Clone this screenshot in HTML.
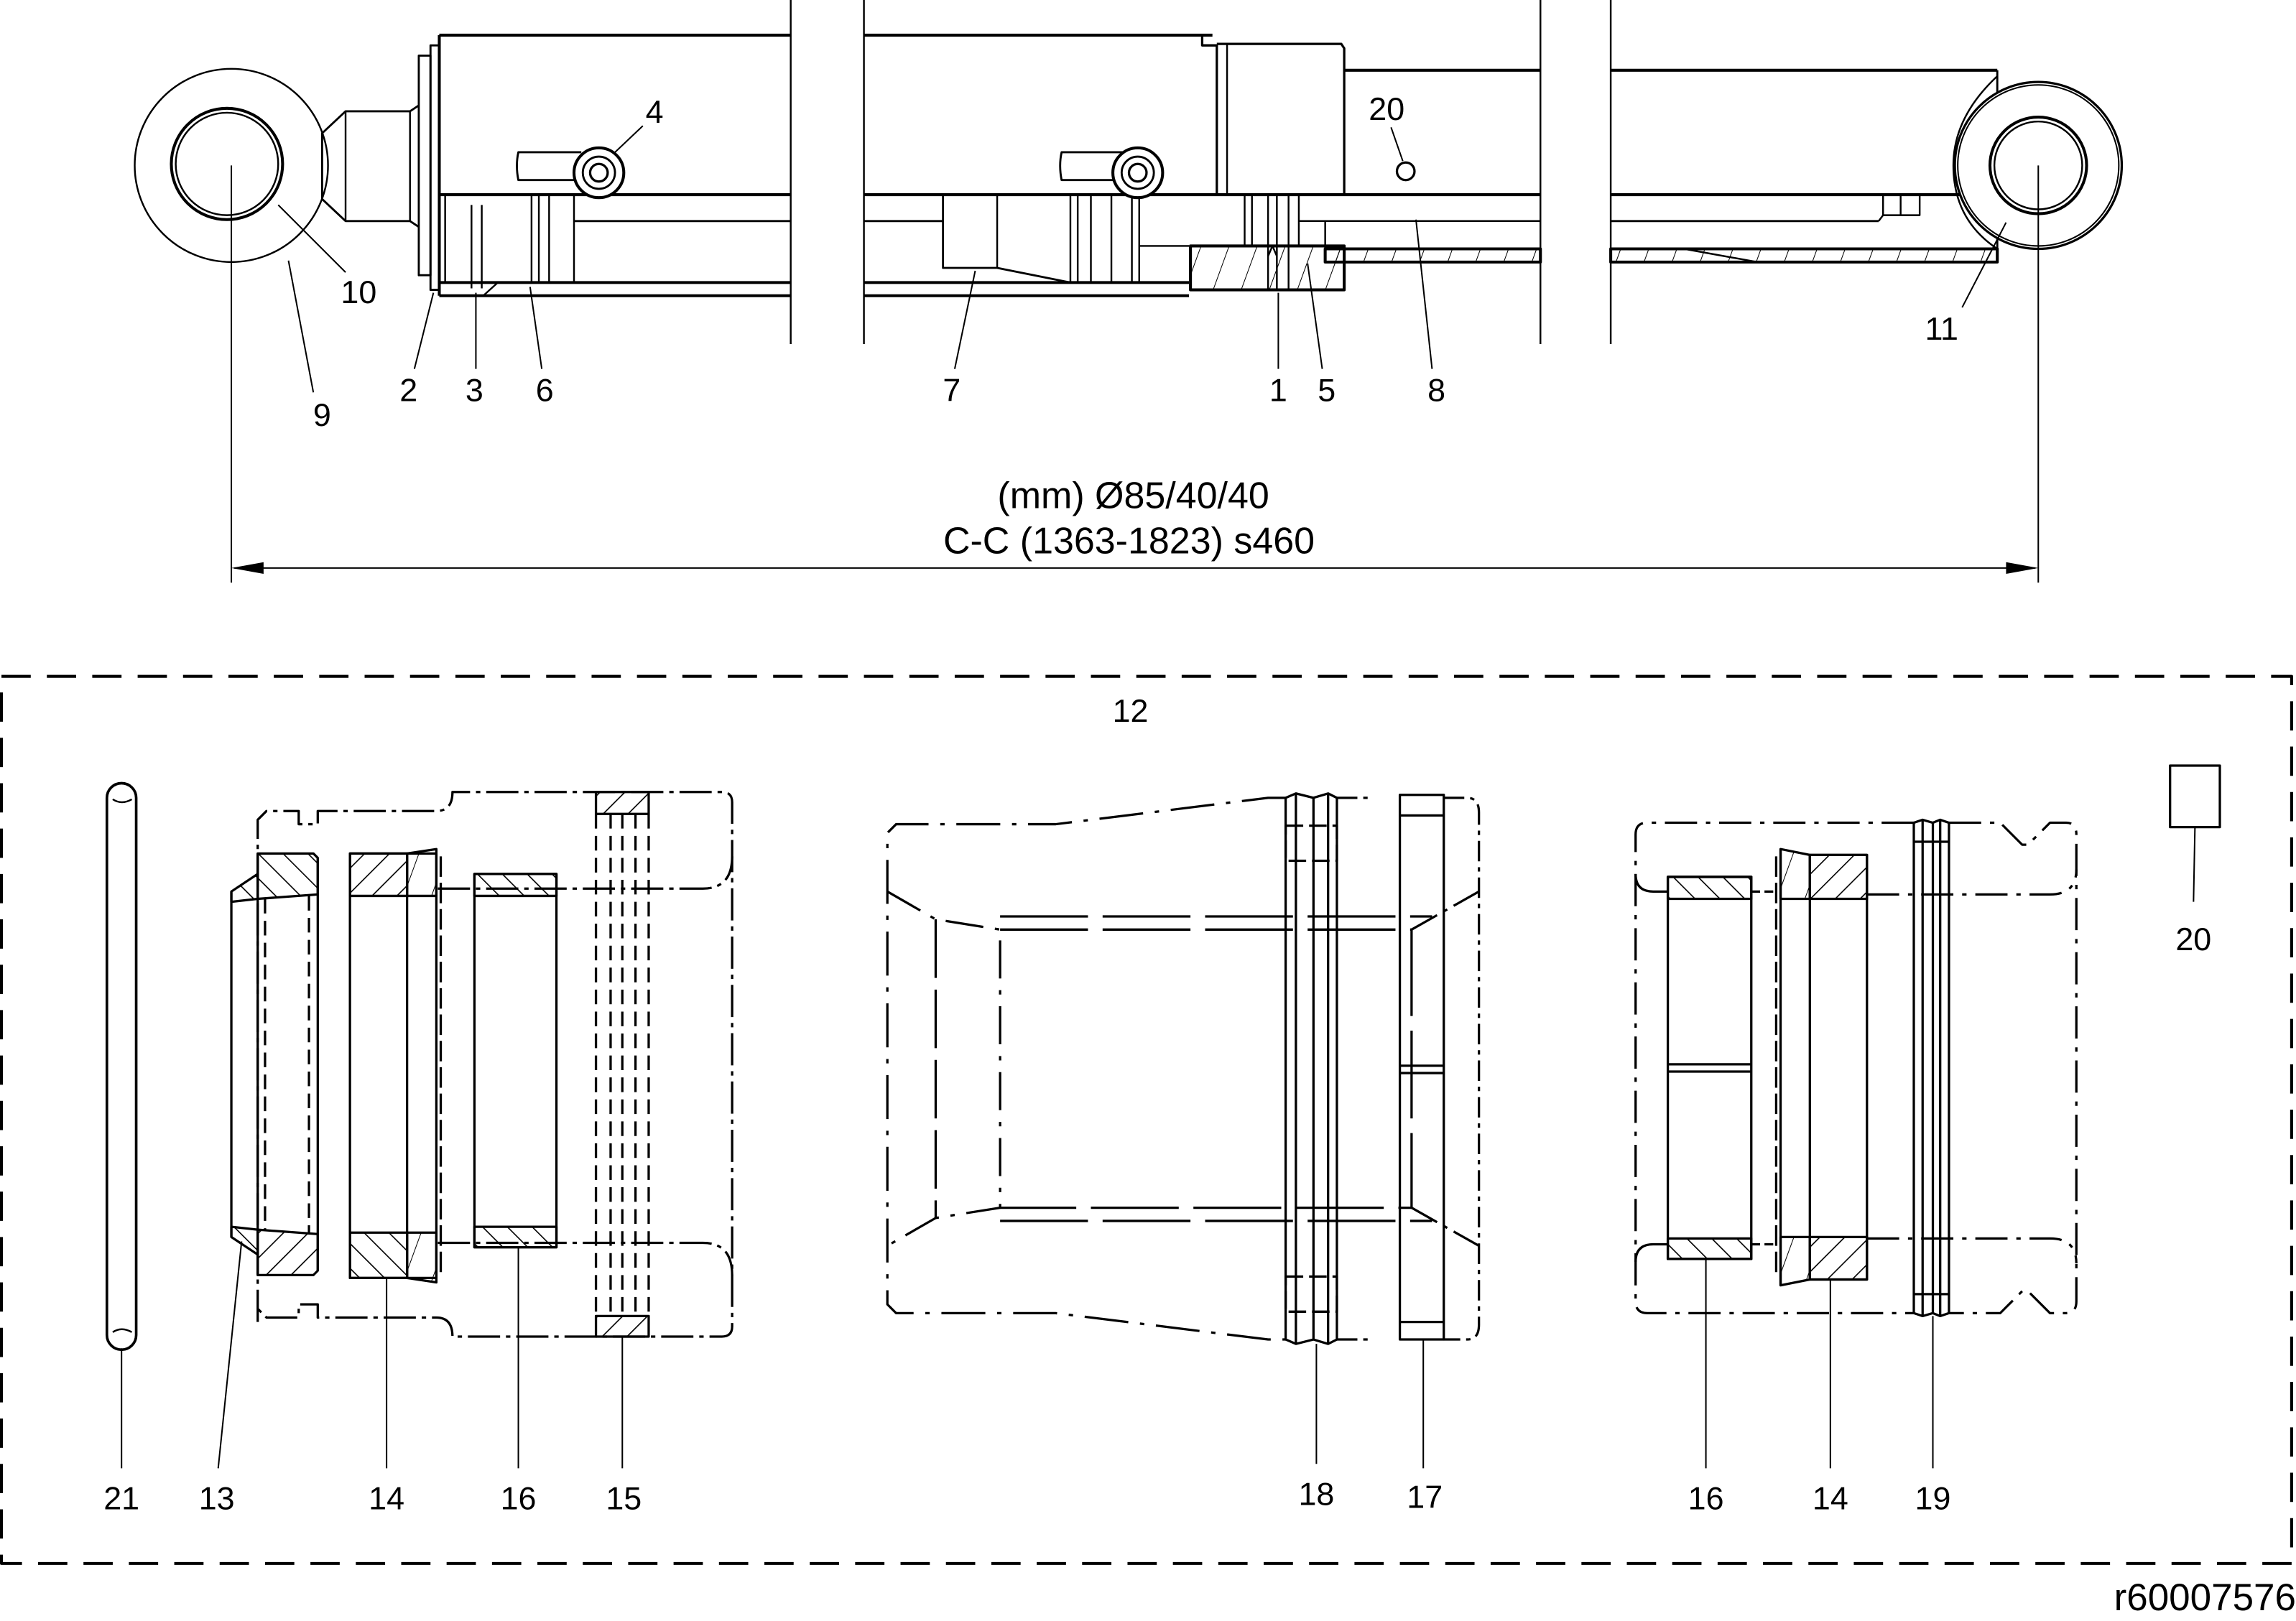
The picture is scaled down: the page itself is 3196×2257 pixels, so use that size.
<!DOCTYPE html>
<html><head><meta charset="utf-8"><style>
html,body{margin:0;padding:0;background:#fff}
svg{display:block}
text{font-family:"Liberation Sans",sans-serif;font-size:22px;fill:#000}
</style></head><body>
<svg width="3196" height="2257" viewBox="0 0 1568 1107.3" preserveAspectRatio="none" xmlns="http://www.w3.org/2000/svg">
<defs>
<pattern id="h1" width="12" height="12" patternUnits="userSpaceOnUse" patternTransform="rotate(45)"><line x1="0" y1="0" x2="0" y2="12" stroke="#000" stroke-width="1.6"/></pattern>
<pattern id="h2" width="12" height="12" patternUnits="userSpaceOnUse" patternTransform="rotate(-45)"><line x1="0" y1="0" x2="0" y2="12" stroke="#000" stroke-width="1.6"/></pattern>
<pattern id="h3" width="18" height="18" patternUnits="userSpaceOnUse" patternTransform="rotate(20)"><line x1="0" y1="0" x2="0" y2="18" stroke="#000" stroke-width="1"/></pattern>
</defs>
<g fill="none" stroke="#000" stroke-linejoin="round">
<g stroke-width="1.2">
<line x1="540" y1="0" x2="540" y2="235"/><line x1="590" y1="0" x2="590" y2="235"/>
<line x1="1052" y1="0" x2="1052" y2="235"/><line x1="1100" y1="0" x2="1100" y2="235"/>
</g>
<circle cx="158" cy="113" r="66" stroke-width="1.2"/>
<circle cx="155" cy="112" r="38" stroke-width="2"/>
<circle cx="155" cy="112" r="35" stroke-width="1.2"/>
<path d="M286 72 L280 76 L236 76 L220 91 L220 136 L236 151 L280 151 L286 155" stroke-width="1.4"/>
<line x1="236" y1="76" x2="236" y2="151" stroke-width="1.2"/>
<line x1="280" y1="76" x2="280" y2="151" stroke-width="1.2"/>
<rect x="286" y="38" width="8" height="150" stroke-width="1.4"/>
<rect x="294" y="31" width="6" height="167" stroke-width="1.4"/>
<g stroke-width="2">
<line x1="300" y1="24" x2="540" y2="24"/><line x1="300" y1="24" x2="300" y2="202"/>
<line x1="300" y1="133" x2="540" y2="133"/>
<line x1="300" y1="193" x2="540" y2="193"/>
<line x1="300" y1="202" x2="540" y2="202"/>
</g>
<line x1="392" y1="151" x2="540" y2="151" stroke-width="1.4"/>
<g stroke-width="1.2">
<line x1="304" y1="133" x2="304" y2="193"/><line x1="322" y1="140" x2="322" y2="197"/><line x1="329" y1="140" x2="329" y2="197"/>
<line x1="363" y1="133" x2="363" y2="193"/><line x1="368" y1="133" x2="368" y2="193"/><line x1="375" y1="133" x2="375" y2="193"/><line x1="392" y1="133" x2="392" y2="193"/>
<line x1="304" y1="193" x2="330" y2="193"/><path d="M330 202 L340 193"/>
</g>
<path d="M397 104 L354 104 Q352 113 354 123 L397 123" stroke-width="1.4"/>
<circle cx="409" cy="118" r="17" fill="#fff" stroke-width="2"/>
<circle cx="409" cy="118" r="11" stroke-width="1.4"/>
<circle cx="409" cy="118" r="6" stroke-width="1.6"/>
<g stroke-width="2">
<line x1="590" y1="24" x2="828" y2="24"/>
<line x1="590" y1="133" x2="1052" y2="133"/>
<line x1="590" y1="193" x2="812" y2="193"/>
<line x1="590" y1="202" x2="812" y2="202"/>
</g>
<line x1="590" y1="151" x2="644" y2="151" stroke-width="1.4"/>
<path d="M644 133 L644 183 L681 183 L731 193" stroke-width="1.4"/>
<g stroke-width="1.2">
<line x1="681" y1="133" x2="681" y2="183"/>
<line x1="731" y1="133" x2="731" y2="193"/><line x1="736" y1="133" x2="736" y2="193"/><line x1="745" y1="133" x2="745" y2="193"/>
<line x1="759" y1="133" x2="759" y2="193"/><line x1="773" y1="133" x2="773" y2="193"/><line x1="778" y1="133" x2="778" y2="193"/>
<line x1="778" y1="168" x2="812" y2="168"/>
</g>
<path d="M768 104 L725 104 Q723 113 725 123 L768 123" stroke-width="1.4"/>
<circle cx="777" cy="118" r="17" fill="#fff" stroke-width="2"/>
<circle cx="777" cy="118" r="11" stroke-width="1.4"/>
<circle cx="777" cy="118" r="6" stroke-width="1.6"/>
<path d="M821 24 L821 31 L831 31 L831 133" stroke-width="1.6"/>
<path d="M831 30 L916 30 L918 33 L918 133" stroke-width="1.6"/>
<line x1="838" y1="30" x2="838" y2="133" stroke-width="1.2"/>
<rect x="813" y="168" width="105" height="30" fill="url(#h3)" stroke-width="2"/>
<g stroke-width="1.2">
<line x1="850" y1="133" x2="850" y2="168"/><line x1="855" y1="133" x2="855" y2="168"/>
<line x1="866" y1="133" x2="866" y2="198"/><line x1="872" y1="133" x2="872" y2="198"/>
<line x1="880" y1="133" x2="880" y2="198"/><line x1="887" y1="133" x2="887" y2="168"/>
<path d="M866 175 L869 168 L872 175"/>
<line x1="887" y1="151" x2="1052" y2="151"/>
<line x1="905" y1="151" x2="905" y2="170"/>
</g>
<g stroke-width="2">
<line x1="918" y1="48" x2="1052" y2="48"/><line x1="1100" y1="48" x2="1364" y2="48"/>
<line x1="1100" y1="133" x2="1340" y2="133"/>
</g>
<line x1="1100" y1="151" x2="1283" y2="151" stroke-width="1.4"/>
<path d="M1283 151 L1286 147 L1286 133 M1286 147 L1311 147 L1311 133 M1298 133 L1298 147" stroke-width="1.2"/>
<rect x="905" y="170" width="147" height="9" fill="url(#h3)" stroke-width="2"/>
<rect x="1100" y="170" width="264" height="9" fill="url(#h3)" stroke-width="2"/>
<line x1="1150" y1="170" x2="1200" y2="179" stroke-width="1.2"/>
<line x1="1364" y1="48" x2="1364" y2="179" stroke-width="1.4"/>
<path d="M1364 52 Q1334 80 1334 113 Q1334 150 1364 170" stroke-width="1.2"/>
<circle cx="1392" cy="113" r="57" fill="#fff" stroke-width="1.6"/>
<circle cx="1392" cy="113" r="55" stroke-width="1"/>
<circle cx="1392" cy="113" r="33" stroke-width="2"/>
<circle cx="1392" cy="113" r="30" stroke-width="1.2"/>
<circle cx="960" cy="117" r="6" stroke-width="1.6"/>
<g stroke-width="1">
<line x1="158" y1="113" x2="158" y2="398"/>
<line x1="1392" y1="113" x2="1392" y2="398"/>
<line x1="160" y1="388" x2="1390" y2="388"/>
</g>
<path d="M158 388 L180 384 L180 392 Z M1392 388 L1370 384 L1370 392 Z" fill="#000" stroke="none"/>
<g stroke-width="1">
<line x1="439" y1="86" x2="420" y2="104"/>
<line x1="236" y1="186" x2="190" y2="140"/>
<line x1="214" y1="268" x2="197" y2="178"/>
<line x1="283" y1="252" x2="296" y2="200"/>
<line x1="325" y1="252" x2="325" y2="200"/>
<line x1="370" y1="252" x2="362" y2="196"/>
<line x1="652" y1="252" x2="666" y2="185"/>
<line x1="873" y1="252" x2="873" y2="200"/>
<line x1="903" y1="252" x2="893" y2="180"/>
<line x1="978" y1="252" x2="967" y2="150"/>
<line x1="950" y1="87" x2="958" y2="110"/>
<line x1="1340" y1="210" x2="1370" y2="152"/>
</g>

<rect x="1" y="462" width="1564" height="606" stroke-width="2" stroke-dasharray="20 11"/>

<rect x="73" y="535" width="20" height="387" rx="10" stroke-width="1.8"/>
<path d="M77 546 Q83 550 90 546 M77 910 Q83 906 90 910" stroke-width="1.2"/>

<g stroke-width="1.6">
<path d="M176 903 L176 560 L182 554 L204 554 L204 563 L217 563 L217 554 L298 554 Q309 554 309 541 L493 541 Q500 541 500 548 L500 906 Q500 913 493 913 L309 913 Q309 900 298 900 L217 900 L217 891 L204 891 L204 900 L182 900 L176 894" stroke-dasharray="22 4 3 4"/>
<path d="M299 607 L480 607 Q500 607 500 585 M299 849 L480 849 Q500 849 500 871" stroke-dasharray="22 4 3 4"/>
<path d="M176 583 L214 583 L217 586 L217 611 L176 614 Z" fill="url(#h2)"/>
<path d="M176 871 L214 871 L217 868 L217 843 L176 840 Z" fill="url(#h1)"/>
<path d="M176 597 L158 609 L158 616 L176 614 M176 857 L158 845 L158 838 L176 840" fill="url(#h2)"/>
<line x1="158" y1="609" x2="158" y2="845"/>
<line x1="176" y1="583" x2="176" y2="871"/>
<line x1="217" y1="586" x2="217" y2="868"/>
<line x1="181" y1="614" x2="181" y2="840" stroke-dasharray="10 5"/>
<line x1="211" y1="612" x2="211" y2="842" stroke-dasharray="10 5"/>
<path d="M239 583 L278 583 L278 612 L239 612 Z" fill="url(#h1)"/>
<path d="M239 842 L278 842 L278 873 L239 873 Z" fill="url(#h2)"/>
<path d="M278 583 L298 580 L298 612 L278 612 Z M278 873 L298 876 L298 842 L278 842 Z" fill="url(#h3)"/>
<rect x="239" y="583" width="59" height="290"/>
<line x1="278" y1="583" x2="278" y2="873"/>
<line x1="301" y1="585" x2="301" y2="870" stroke-dasharray="14 4"/>
<rect x="324" y="597" width="56" height="255"/>
<path d="M324 597 L380 597 L380 612 L324 612 Z M324 838 L380 838 L380 852 L324 852 Z" fill="url(#h2)"/>
<path d="M407 541 L443 541 L443 556 L407 556 Z M407 899 L443 899 L443 913 L407 913 Z" fill="url(#h1)"/>
<g stroke-dasharray="10 5"><line x1="407" y1="556" x2="407" y2="899"/><line x1="417" y1="556" x2="417" y2="899"/><line x1="425" y1="556" x2="425" y2="899"/><line x1="434" y1="556" x2="434" y2="899"/><line x1="443" y1="556" x2="443" y2="899"/></g>
</g>

<g stroke-width="1.6">
<path d="M878 545 L866 545 L721 563 L612 563 L606 569 L606 891 L612 897 L721 897 L866 915 L878 915" stroke-dasharray="30 8 3 8"/>
<path d="M913 545 L935 545 M986 545 L1002 545 Q1010 545 1010 555 L1010 905 Q1010 915 1002 915 L986 915 M913 915 L935 915" stroke-dasharray="14 4 3 4"/>
<path d="M878 545 L885 542 L897 545 L907 542 L913 545 L913 915 L907 918 L897 915 L885 918 L878 915 Z"/>
<line x1="885" y1="542" x2="885" y2="918"/><line x1="897" y1="545" x2="897" y2="915"/><line x1="907" y1="542" x2="907" y2="918"/>
<rect x="878" y="564" width="35" height="24" stroke-dasharray="12 4"/>
<rect x="878" y="872" width="35" height="24" stroke-dasharray="12 4"/>
<rect x="956" y="543" width="30" height="372"/>
<line x1="956" y1="557" x2="986" y2="557"/><line x1="956" y1="903" x2="986" y2="903"/>
<line x1="956" y1="728" x2="986" y2="728"/><line x1="956" y1="733" x2="986" y2="733"/>
<path d="M606 609 L639 628 L683 635 L683 825 L639 832 L606 851" stroke-dasharray="26 8 3 8"/>
<line x1="639" y1="628" x2="639" y2="832" stroke-dasharray="40 8"/>
<path d="M683 635 L964 635 L964 825 L683 825" stroke-dasharray="60 10"/>
<line x1="683" y1="626" x2="978" y2="626" stroke-dasharray="60 10"/>
<line x1="683" y1="834" x2="978" y2="834" stroke-dasharray="60 10"/>
<path d="M964 635 L1010 609 M964 825 L1010 851" stroke-dasharray="20 5 3 5"/>
</g>

<g stroke-width="1.6">
<path d="M1307 562 L1125 562 Q1117 562 1117 570 L1117 889 Q1117 897 1125 897 L1307 897" stroke-dasharray="22 6 3 6"/>
<path d="M1331 562 L1366 562 L1381 577 L1385 577 L1400 562 L1411 562 Q1418 562 1418 570 L1418 889 Q1418 897 1411 897 L1400 897 L1385 882 L1381 882 L1366 897 L1331 897" stroke-dasharray="22 6 3 6"/>
<path d="M1307 562 L1313 560 L1320 562 L1325 560 L1331 562 L1331 897 L1325 899 L1320 897 L1313 899 L1307 897 Z"/>
<line x1="1313" y1="560" x2="1313" y2="899"/><line x1="1320" y1="562" x2="1320" y2="897"/><line x1="1325" y1="560" x2="1325" y2="899"/>
<line x1="1307" y1="575" x2="1331" y2="575"/><line x1="1307" y1="884" x2="1331" y2="884"/>
<path d="M1117 597 Q1117 609 1129 609 L1139 609 M1117 862 Q1117 850 1129 850 L1139 850"/>
<rect x="1139" y="599" width="57" height="261"/>
<path d="M1139 599 L1196 599 L1196 614 L1139 614 Z M1139 846 L1196 846 L1196 860 L1139 860 Z" fill="url(#h2)"/>
<line x1="1139" y1="727" x2="1196" y2="727"/><line x1="1139" y1="732" x2="1196" y2="732"/>
<line x1="1196" y1="609" x2="1213" y2="609" stroke-dasharray="6 3"/><line x1="1196" y1="850" x2="1213" y2="850" stroke-dasharray="6 3"/>
<rect x="1236" y="584" width="39" height="290"/>
<path d="M1236 584 L1275 584 L1275 614 L1236 614 Z M1236 845 L1275 845 L1275 874 L1236 874 Z" fill="url(#h1)"/>
<path d="M1216 580 L1236 584 L1236 614 L1216 614 Z M1216 878 L1236 874 L1236 845 L1216 845 Z" fill="url(#h3)"/>
<line x1="1216" y1="580" x2="1216" y2="878"/><line x1="1213" y1="585" x2="1213" y2="873" stroke-dasharray="14 4"/>
<path d="M1275 611 L1400 611 Q1418 611 1418 594 M1275 846 L1400 846 Q1418 846 1418 863" stroke-dasharray="22 6 3 6"/>
<rect x="1482" y="523" width="34" height="42"/>
</g>
<g stroke-width="1">
<line x1="83" y1="921" x2="83" y2="1003"/>
<line x1="165" y1="848" x2="149" y2="1003"/>
<line x1="264" y1="873" x2="264" y2="1003"/>
<line x1="354" y1="852" x2="354" y2="1003"/>
<line x1="425" y1="913" x2="425" y2="1003"/>
<line x1="899" y1="918" x2="899" y2="1000"/>
<line x1="972" y1="915" x2="972" y2="1003"/>
<line x1="1165" y1="860" x2="1165" y2="1003"/>
<line x1="1250" y1="874" x2="1250" y2="1003"/>
<line x1="1320" y1="899" x2="1320" y2="1003"/>
<line x1="1499" y1="565" x2="1498" y2="616"/>
</g>
</g>
<g text-anchor="middle">
<text x="447" y="84">4</text>
<text x="947" y="82">20</text>
<text x="245" y="207">10</text>
<text x="220" y="291">9</text>
<text x="279" y="274">2</text>
<text x="324" y="274">3</text>
<text x="372" y="274">6</text>
<text x="650" y="274">7</text>
<text x="873" y="274">1</text>
<text x="906" y="274">5</text>
<text x="981" y="274">8</text>
<text x="1326" y="232">11</text>
<text x="774" y="347" style="font-size:25.5px">(mm) Ø85/40/40</text>
<text x="771" y="378" style="font-size:25.5px">C-C (1363-1823) s460</text>
<text x="772" y="493">12</text>
<text x="1498" y="649">20</text>
<text x="83" y="1031">21</text>
<text x="148" y="1031">13</text>
<text x="264" y="1031">14</text>
<text x="354" y="1031">16</text>
<text x="426" y="1031">15</text>
<text x="899" y="1028">18</text>
<text x="973" y="1030">17</text>
<text x="1165" y="1031">16</text>
<text x="1250" y="1031">14</text>
<text x="1320" y="1031">19</text>
</g>
<text x="1568" y="1100" text-anchor="end" style="font-size:26px">r60007576</text>
</svg>
</body></html>
